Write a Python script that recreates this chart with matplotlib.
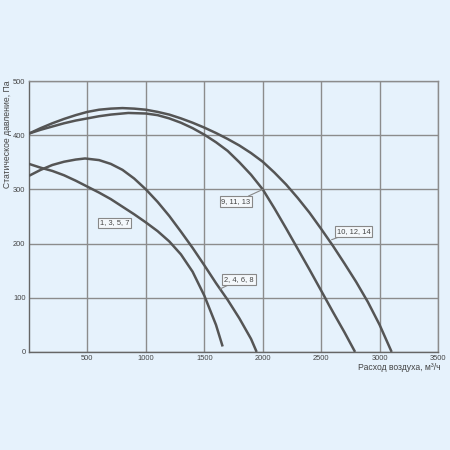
import matplotlib.pyplot as plt

plt.rcParams['font.family'] = ['Liberation Sans', 'DejaVu Sans']

# кривые вентиляторов: расход (м3/ч) и статическое давление (Па)
x_1357 = [0, 100, 200, 300, 400, 500, 600, 700, 800, 900, 1000, 1100, 1200, 1300, 1400, 1500, 1600, 1657]
p_1357 = [347, 340, 334, 326, 316, 305, 294, 282, 268, 254, 239, 223, 204, 180, 148, 104, 50, 10]

x_2468 = [0, 100, 200, 300, 400, 480, 600, 700, 800, 900, 1000, 1100, 1200, 1300, 1400, 1500, 1600, 1700, 1800, 1900, 1948]
p_2468 = [325, 336, 345, 351, 355, 357, 354, 347, 336, 320, 300, 277, 251, 222, 192, 160, 127, 96, 62, 24, 0]

x_91113 = [0, 100, 200, 300, 400, 500, 600, 700, 850, 1000, 1100, 1200, 1300, 1400, 1500, 1600, 1700,
           1800, 1900, 2000, 2100, 2200, 2300, 2400, 2500, 2600, 2700, 2790]
p_91113 = [403, 410, 416, 422, 427, 431, 435, 438, 441, 440, 437, 431, 423, 413, 401, 387, 371,
           350, 327, 300, 265, 228, 190, 152, 113, 74, 36, 0]

x_101214 = [0, 100, 200, 300, 400, 500, 600, 700, 800, 900, 1000, 1100, 1200, 1300, 1400, 1500, 1600,
            1700, 1800, 1900, 2000, 2100, 2200, 2300, 2400, 2500, 2600, 2700, 2800, 2900, 3000, 3103]
p_101214 = [403, 413, 422, 430, 437, 443, 447, 449, 450, 449, 447, 443, 438, 431, 423, 414, 404,
            393, 381, 367, 351, 331, 309, 284, 257, 227, 196, 163, 129, 92, 50, 0]

# подписи: текст, точка на кривой, положение рамки
labels = ["1, 3, 5, 7", "2, 4, 6, 8", "9, 11, 13", "10, 12, 14"]
label_xy = [None, (1634, 116), (2002, 300), (2589, 207)]
label_text_xy = [(731, 238), (1796, 133), (1771, 277), (2776, 222)]

bg = "#e6f2fc"
fig = plt.figure(figsize=(4.5, 4.5), dpi=100, facecolor=bg)
ax = fig.add_axes([0.0644, 0.218, 0.909, 0.602], facecolor=bg)

line_color = "#555555"
for xs, ps in [(x_1357, p_1357), (x_2468, p_2468), (x_91113, p_91113), (x_101214, p_101214)]:
    ax.plot(xs, ps, color=line_color, linewidth=1.8, solid_capstyle='butt',
            solid_joinstyle='round', zorder=3)

box = dict(boxstyle="square,pad=0.25", facecolor="#f4f8fb", edgecolor="#888888", linewidth=0.8)
for text, xy, xytext in zip(labels, label_xy, label_text_xy):
    if xy is None:
        ax.text(xytext[0], xytext[1], text, fontsize=5.4, color="#444444",
                ha='center', va='center', bbox=box, zorder=4)
    else:
        ax.annotate(text, xy=xy, xytext=xytext, fontsize=5.4, color="#444444",
                    ha='center', va='center', bbox=box, zorder=4,
                    arrowprops=dict(arrowstyle='-', color="#888888", linewidth=0.8,
                                    shrinkA=0, shrinkB=0))

ax.set_xlim(0, 3500)
ax.set_ylim(0, 500)
ax.set_xticks([500, 1000, 1500, 2000, 2500, 3000, 3500])
ax.set_yticks([0, 100, 200, 300, 400, 500])
ax.tick_params(length=0, labelsize=5.4, labelcolor="#444444")
ax.tick_params(axis='x', pad=2)
ax.tick_params(axis='y', pad=2.5)
ax.grid(True, color="#8c8c8c", linewidth=1)
for s in ax.spines.values():
    s.set_color("#8c8c8c")
    s.set_linewidth(1)
ax.spines['left'].set_color("#666666")
ax.spines['bottom'].set_color("#666666")

fig.text(0.017, 0.82, "Статическое давление, Па", rotation=90, ha='center', va='top',
         fontsize=6.2, color="#444444")
fig.text(0.98, 1 - 368 / 450, "Расход воздуха, м³/ч", ha='right', va='center',
         fontsize=6.2, color="#444444")

fig.savefig("out.png", dpi=100, facecolor=bg)
